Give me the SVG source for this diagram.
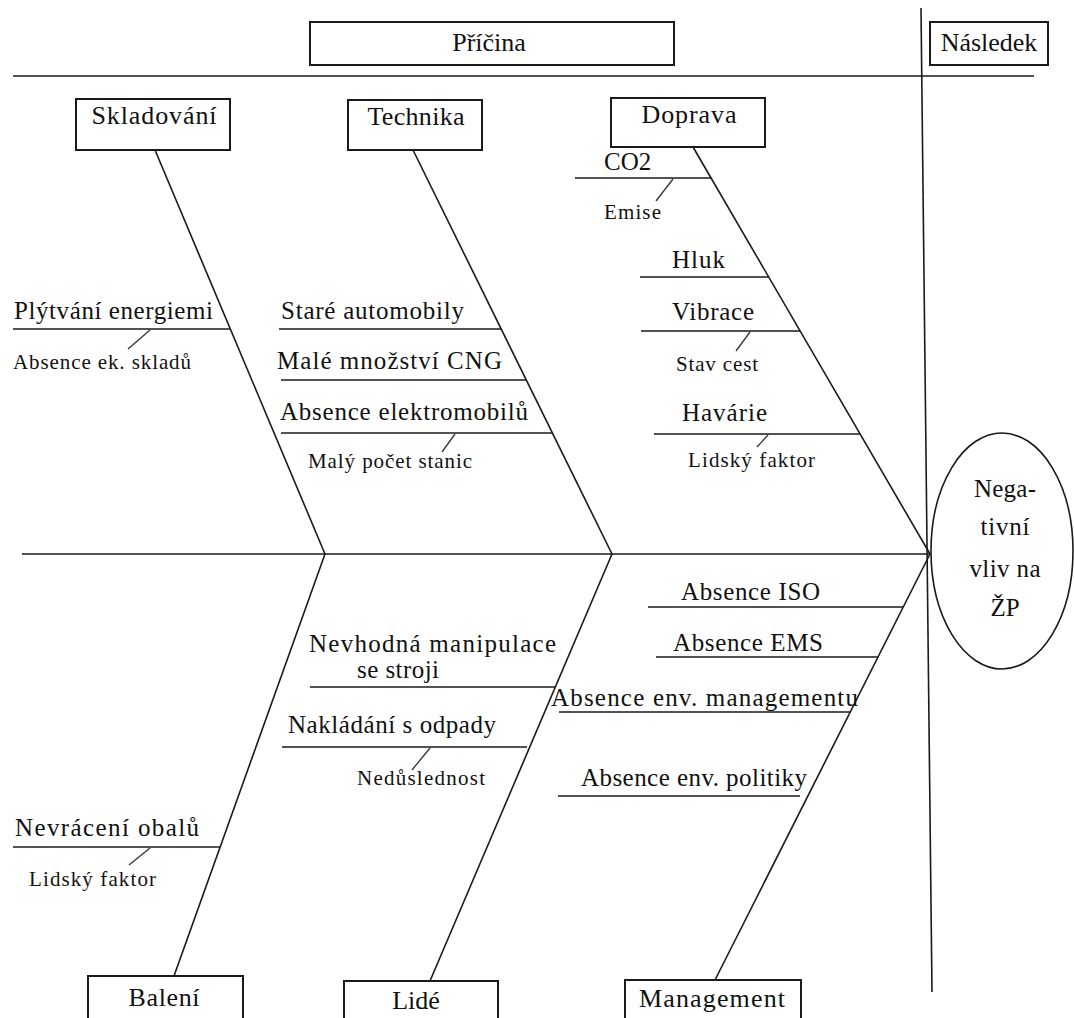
<svg xmlns="http://www.w3.org/2000/svg" width="1074" height="1018" viewBox="0 0 1074 1018">
<style>
  .bg{fill:#ffffff}
  .box{fill:#ffffff;stroke:#1a1a1a;stroke-width:2}
  .ln{stroke:#1a1a1a;stroke-width:1.6;fill:none;stroke-linecap:butt}
  .tk{stroke:#333;stroke-width:1.3;fill:none}
  text{font-family:"Liberation Serif","Times New Roman",serif;fill:#111}
  .lb{font-size:26px}
  .mn{font-size:25px}
  .sb{font-size:21px}
  .c{text-anchor:middle}
</style>
<rect class="bg" x="0" y="0" width="1074" height="1018"/>

<g id="connectors">
  <line class="ln" x1="13" y1="76" x2="1034" y2="76"/>
  <line class="ln" x1="921" y1="8" x2="932" y2="992"/>
  <line class="ln" x1="22" y1="554" x2="930" y2="554"/>
  <line class="ln" x1="155" y1="150" x2="325" y2="554"/>
  <line class="ln" x1="413" y1="150" x2="612" y2="554"/>
  <line class="ln" x1="693" y1="147" x2="930" y2="554"/>
  <line class="ln" x1="325" y1="554" x2="174" y2="976"/>
  <line class="ln" x1="612" y1="554" x2="430" y2="981"/>
  <line class="ln" x1="930" y1="554" x2="715" y2="980"/>
  <line class="ln" x1="13" y1="329" x2="230" y2="329"/>
  <line class="tk" x1="150" y1="330" x2="128" y2="349"/>
  <line class="ln" x1="279" y1="329" x2="501" y2="329"/>
  <line class="ln" x1="281" y1="380" x2="526" y2="380"/>
  <line class="ln" x1="281" y1="433" x2="553" y2="433"/>
  <line class="tk" x1="455" y1="434" x2="442" y2="452"/>
  <line class="ln" x1="575" y1="178" x2="711" y2="178"/>
  <line class="tk" x1="673" y1="179" x2="656" y2="201"/>
  <line class="ln" x1="640" y1="277" x2="768" y2="277"/>
  <line class="ln" x1="641" y1="331" x2="800" y2="331"/>
  <line class="tk" x1="750" y1="332" x2="736" y2="351"/>
  <line class="ln" x1="654" y1="434" x2="860" y2="434"/>
  <line class="tk" x1="768" y1="435" x2="757" y2="447"/>
  <line class="ln" x1="648" y1="607" x2="903" y2="607"/>
  <line class="ln" x1="656" y1="657" x2="878" y2="657"/>
  <line class="ln" x1="559" y1="712" x2="850" y2="712"/>
  <line class="ln" x1="558" y1="796" x2="800" y2="796"/>
  <line class="ln" x1="310" y1="687" x2="555" y2="687"/>
  <line class="ln" x1="282" y1="747" x2="527" y2="747"/>
  <line class="tk" x1="430" y1="748" x2="412" y2="770"/>
  <line class="ln" x1="13" y1="847" x2="220" y2="847"/>
  <line class="tk" x1="150" y1="848" x2="129" y2="865"/>
</g>

<g id="pricina">
  <rect class="box" x="310" y="22" width="364" height="43"/>
  <text class="lb c" x="489" y="51">Příčina</text>
</g>
<g id="nasledek">
  <rect class="box" x="930" y="22" width="118" height="43"/>
  <text class="lb c" x="989" y="51">Následek</text>
</g>

<g id="skladovani">
  <rect class="box" x="76" y="99" width="154" height="51"/>
  <text class="lb c" x="154" y="124" textLength="125">Skladování</text>
</g>
<g id="technika">
  <rect class="box" x="348" y="100" width="134" height="50"/>
  <text class="lb c" x="416" y="125" textLength="97">Technika</text>
</g>
<g id="doprava">
  <rect class="box" x="611" y="98" width="154" height="49"/>
  <text class="lb c" x="689" y="123" textLength="95">Doprava</text>
</g>
<g id="baleni">
  <rect class="box" x="88" y="976" width="155" height="60"/>
  <text class="lb c" x="164" y="1006" textLength="71">Balení</text>
</g>
<g id="lide">
  <rect class="box" x="344" y="981" width="154" height="60"/>
  <text class="lb c" x="416" y="1009">Lidé</text>
</g>
<g id="management">
  <rect class="box" x="625" y="980" width="176" height="60"/>
  <text class="lb c" x="712" y="1007" textLength="146">Management</text>
</g>

<g id="effect">
  <ellipse class="box" cx="1002" cy="551" rx="71" ry="118" style="stroke-width:1.6"/>
  <text class="mn c" x="1005" y="497" textLength="62">Nega-</text>
  <text class="mn c" x="1005" y="535" textLength="49">tivní</text>
  <text class="mn c" x="1005" y="577" textLength="71">vliv na</text>
  <text class="mn c" x="1005" y="616">ŽP</text>
</g>

<g id="cause-plytvani">
  <text class="mn" x="14" y="319" textLength="199">Plýtvání energiemi</text>
  <text class="sb" x="13" y="369" textLength="178">Absence ek. skladů</text>
</g>
<g id="cause-stare">
  <text class="mn" x="281" y="319" textLength="183">Staré automobily</text>
</g>
<g id="cause-cng">
  <text class="mn" x="277" y="369" textLength="225">Malé množství CNG</text>
</g>
<g id="cause-elektro">
  <text class="mn" x="280" y="420" textLength="248">Absence elektromobilů</text>
  <text class="sb" x="308" y="468" textLength="164">Malý počet stanic</text>
</g>
<g id="cause-co2">
  <text class="mn" x="604" y="170">CO2</text>
  <text class="sb" x="604" y="219" textLength="57">Emise</text>
</g>
<g id="cause-hluk">
  <text class="mn" x="672" y="268" textLength="53">Hluk</text>
</g>
<g id="cause-vibrace">
  <text class="mn" x="672" y="320" textLength="82">Vibrace</text>
  <text class="sb" x="676" y="371" textLength="82">Stav cest</text>
</g>
<g id="cause-havarie">
  <text class="mn" x="682" y="421" textLength="85">Havárie</text>
  <text class="sb" x="688" y="467" textLength="127">Lidský faktor</text>
</g>
<g id="cause-iso">
  <text class="mn" x="681" y="600" textLength="139">Absence ISO</text>
</g>
<g id="cause-ems">
  <text class="mn" x="673" y="651" textLength="150">Absence EMS</text>
</g>
<g id="cause-envman">
  <text class="mn" x="551" y="706" textLength="307">Absence env. managementu</text>
</g>
<g id="cause-envpol">
  <text class="mn" x="581" y="786" textLength="226">Absence env. politiky</text>
</g>
<g id="cause-manipulace">
  <text class="mn" x="309" y="652" textLength="247">Nevhodná manipulace</text>
  <text class="mn" x="357" y="678" textLength="82">se stroji</text>
</g>
<g id="cause-odpady">
  <text class="mn" x="288" y="733" textLength="208">Nakládání s odpady</text>
  <text class="sb" x="357" y="785" textLength="128">Nedůslednost</text>
</g>
<g id="cause-obaly">
  <text class="mn" x="15" y="836" textLength="184">Nevrácení obalů</text>
  <text class="sb" x="29" y="886" textLength="127">Lidský faktor</text>
</g>
</svg>
